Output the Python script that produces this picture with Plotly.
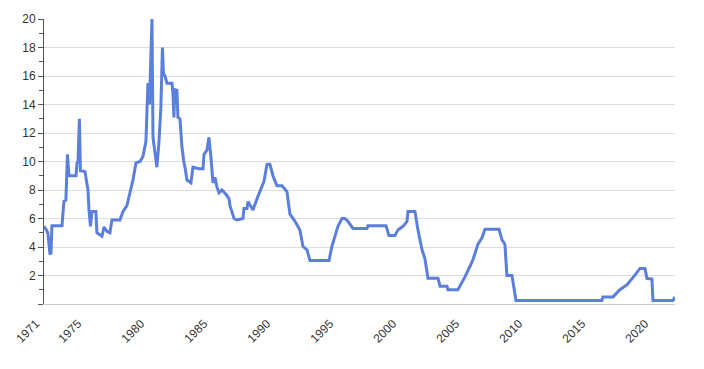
import plotly.graph_objects as go

# Decimal-year positions and rate values (%)
years = [
    1971.67, 1971.90, 1971.98, 1972.14, 1972.22, 1972.30, 1973.10, 1973.25, 1973.41, 1973.53,
    1973.65, 1974.21, 1974.29, 1974.37, 1974.48, 1974.56, 1974.92, 1975.16, 1975.24, 1975.36,
    1975.48, 1975.79, 1975.87, 1976.27, 1976.43, 1976.67, 1976.90, 1977.06, 1977.70, 1977.94,
    1978.25, 1978.49, 1978.73, 1978.97, 1979.29, 1979.52, 1979.76, 1979.92, 1980.04, 1980.24,
    1980.32, 1980.48, 1980.63, 1980.79, 1980.95, 1981.07, 1981.15, 1981.27, 1981.43, 1981.83,
    1981.90, 1981.98, 1982.06, 1982.22, 1982.30, 1982.46, 1982.62, 1982.78, 1982.86, 1983.02,
    1983.33, 1983.49, 1983.97, 1984.29, 1984.37, 1984.60, 1984.76, 1984.92, 1985.08, 1985.24,
    1985.40, 1985.56, 1985.79, 1986.11, 1986.35, 1986.43, 1986.75, 1986.98, 1987.46, 1987.54,
    1987.78, 1987.86, 1988.17, 1988.25, 1988.65, 1988.97, 1989.13, 1989.37, 1989.60, 1989.84,
    1990.16, 1990.56, 1990.95, 1991.19, 1991.59, 1991.98, 1992.22, 1992.54, 1992.78, 1994.29,
    1994.52, 1994.76, 1995.00, 1995.32, 1995.56, 1995.79, 1996.19, 1997.30, 1997.38, 1998.81,
    1999.05, 1999.52, 1999.76, 2000.16, 2000.48, 2000.56, 2001.11, 2001.35, 2001.67, 2001.90,
    2002.14, 2002.94, 2003.10, 2003.65, 2003.73, 2004.52, 2004.68, 2005.08, 2005.48, 2005.71,
    2006.11, 2006.43, 2006.67, 2007.78, 2008.02, 2008.25, 2008.41, 2008.81, 2009.13, 2015.95,
    2016.03, 2016.83, 2017.38, 2017.94, 2018.41, 2018.97, 2019.37, 2019.52, 2019.92, 2020.00,
    2021.59, 2021.75,
]
rates = [
    5.45, 5.15, 4.95, 3.55, 3.5, 5.5, 5.5, 7.2, 7.3, 10.5,
    9.0, 9.0, 9.9, 10.0, 13.0, 9.35, 9.3, 8.0, 6.6, 5.45,
    6.5, 6.5, 5.0, 4.75, 5.4, 5.1, 5.0, 5.9, 5.9, 6.5,
    6.9, 7.8, 8.7, 9.9, 10.0, 10.35, 11.4, 15.5, 14.0, 20.0,
    11.7, 10.6, 9.6, 11.3, 13.9, 18.0, 16.2, 16.0, 15.5, 15.5,
    14.8, 13.1, 15.05, 15.0, 13.1, 13.0, 11.0, 9.9, 9.6, 8.7,
    8.5, 9.6, 9.5, 9.5, 10.5, 10.8, 11.7, 10.3, 8.5, 8.9,
    8.2, 7.8, 8.0, 7.7, 7.4, 6.9, 6.0, 5.9, 6.0, 6.7,
    6.7, 7.2, 6.75, 6.6, 7.55, 8.25, 8.6, 9.8, 9.8, 9.0,
    8.3, 8.3, 7.9, 6.3, 5.8, 5.2, 4.05, 3.8, 3.05, 3.05,
    4.05, 4.75, 5.45, 6.0, 6.0, 5.8, 5.3, 5.3, 5.5, 5.5,
    4.8, 4.8, 5.2, 5.45, 5.8, 6.5, 6.5, 5.2, 3.8, 3.2,
    1.8, 1.8, 1.25, 1.25, 1.0, 1.0, 1.25, 1.9, 2.65, 3.1,
    4.2, 4.65, 5.25, 5.25, 4.5, 4.2, 2.0, 2.0, 0.25, 0.25,
    0.5, 0.5, 1.0, 1.35, 1.85, 2.5, 2.5, 1.8, 1.75, 0.25,
    0.25, 0.5,
]

x_tick_vals = [1971.67, 1975, 1980, 1985, 1990, 1995, 2000, 2005, 2010, 2015, 2020]
x_tick_text = ["1971", "1975", "1980", "1985", "1990", "1995", "2000", "2005", "2010", "2015", "2020"]
y_tick_vals = [0, 2, 4, 6, 8, 10, 12, 14, 16, 18, 20]
y_tick_text = ["", "2", "4", "6", "8", "10", "12", "14", "16", "18", "20"]

fig = go.Figure()
fig.add_trace(go.Scatter(
    x=years, y=rates, mode="lines",
    line=dict(color="#5a7fdc", width=3),
    hoverinfo="x+y",
))

fig.update_layout(
    width=704, height=369,
    margin=dict(l=44, r=29, t=19, b=65),
    paper_bgcolor="white", plot_bgcolor="white",
    showlegend=False,
    font=dict(family="Liberation Sans, Arial, sans-serif", size=12, color="#333333"),
)
fig.update_xaxes(
    range=[1971.67, 2021.75],
    tickvals=x_tick_vals, ticktext=x_tick_text,
    tickangle=-45, ticks="", showgrid=False, zeroline=False,
    showline=True, linecolor="#cccccc", linewidth=1,
    ticklabelstandoff=7, ticklabelshift=-8,
    tickfont=dict(size=12, color="#333333"),
)
fig.update_yaxes(
    range=[0, 20],
    tickvals=y_tick_vals, ticktext=y_tick_text,
    ticks="outside", ticklen=5, tickcolor="#555555", tickwidth=1,
    showline=True, linecolor="#555555", linewidth=1,
    showgrid=True, gridcolor="#dddddd", gridwidth=1, zeroline=False,
    minor=dict(dtick=1, tick0=0, ticks="outside", ticklen=4, tickcolor="#555555", showgrid=False),
    tickfont=dict(size=12, color="#333333"),
)

fig.write_html("out.html")
